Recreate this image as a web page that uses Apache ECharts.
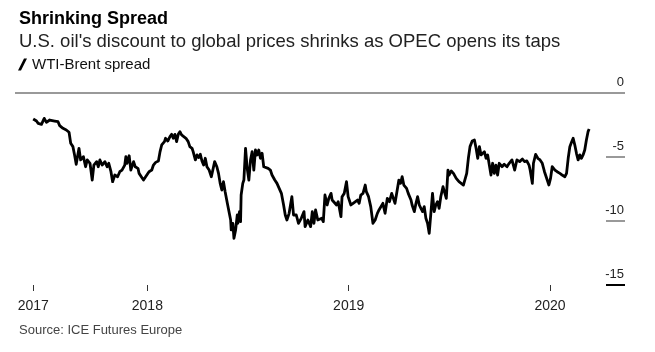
<!DOCTYPE html>
<html>
<head>
<meta charset="utf-8">
<script src="https://cdn.jsdelivr.net/npm/echarts@6/dist/echarts.min.js"></script>
<style>
html,body{margin:0;padding:0;background:#fff;}
#chart{width:655px;height:352px;}
</style>
</head>
<body>
<div id="chart"></div>
<script>
var titleText = 'Shrinking Spread';
var subtitleText = "U.S. oil's discount to global prices shrinks as OPEC opens its taps";
var seriesName = 'WTI-Brent spread';
var sourceText = 'Source: ICE Futures Europe';

var xTickDates = ['2017-06-08', '2018-01-01', '2019-01-01', '2020-01-01'];
var xTickLabels = ['2017', '2018', '2019', '2020'];
var xRange = ['2017-05-06', '2020-05-16'];
var yTickValues = [0, -5, -10, -15];

var dates = [
'2017-06-08','2017-06-14','2017-06-17','2017-06-23','2017-06-28','2017-07-02','2017-07-08','2017-07-17','2017-07-23','2017-07-26',
'2017-07-29','2017-08-01','2017-08-07','2017-08-12','2017-08-15','2017-08-19','2017-08-22','2017-08-25','2017-08-30','2017-09-02',
'2017-09-07','2017-09-11','2017-09-14','2017-09-19','2017-09-23','2017-09-26','2017-10-01','2017-10-04','2017-10-07','2017-10-11',
'2017-10-16','2017-10-20','2017-10-23','2017-10-27','2017-10-30','2017-11-03','2017-11-08','2017-11-12','2017-11-16','2017-11-21',
'2017-11-23','2017-11-25','2017-11-29','2017-12-02','2017-12-07','2017-12-10','2017-12-15','2017-12-17','2017-12-21','2017-12-25',
'2017-12-28','2017-12-31','2018-01-04','2018-01-09','2018-01-12','2018-01-16','2018-01-21','2018-01-24','2018-01-27','2018-02-01',
'2018-02-03','2018-02-07','2018-02-11','2018-02-14','2018-02-17','2018-02-20','2018-02-23','2018-02-26','2018-03-01','2018-03-04',
'2018-03-07','2018-03-12','2018-03-16','2018-03-19','2018-03-23','2018-03-25','2018-03-29','2018-04-01','2018-04-04','2018-04-07',
'2018-04-10','2018-04-13','2018-04-16','2018-04-19','2018-04-23','2018-04-27','2018-04-29','2018-05-03','2018-05-07','2018-05-10',
'2018-05-13','2018-05-16','2018-05-19','2018-05-22','2018-05-26','2018-05-29','2018-06-01','2018-06-02','2018-06-05','2018-06-07',
'2018-06-10','2018-06-13','2018-06-14','2018-06-17','2018-06-19','2018-06-20','2018-06-23','2018-06-25','2018-06-28','2018-07-01',
'2018-07-04','2018-07-07','2018-07-10','2018-07-13','2018-07-16','2018-07-19','2018-07-22','2018-07-25','2018-07-28','2018-07-31',
'2018-08-03','2018-08-08','2018-08-12','2018-08-15','2018-08-20','2018-08-24','2018-08-28','2018-09-01','2018-09-05','2018-09-08',
'2018-09-11','2018-09-15','2018-09-20','2018-09-23','2018-09-28','2018-10-02','2018-10-07','2018-10-12','2018-10-14','2018-10-19',
'2018-10-24','2018-10-27','2018-10-30','2018-11-02','2018-11-06','2018-11-13','2018-11-16','2018-11-19','2018-11-23','2018-11-26',
'2018-11-30','2018-12-02','2018-12-05','2018-12-10','2018-12-13','2018-12-18','2018-12-20','2018-12-24','2018-12-28','2018-12-31',
'2019-01-05','2019-01-09','2019-01-12','2019-01-17','2019-01-20','2019-01-23','2019-01-27','2019-01-31','2019-02-02','2019-02-06',
'2019-02-10','2019-02-14','2019-02-18','2019-02-22','2019-02-25','2019-02-28','2019-03-04','2019-03-08','2019-03-12','2019-03-16',
'2019-03-20','2019-03-22','2019-03-26','2019-03-30','2019-04-02','2019-04-05','2019-04-08','2019-04-11','2019-04-16','2019-04-19',
'2019-04-24','2019-04-26','2019-04-30','2019-05-03','2019-05-06','2019-05-09','2019-05-12','2019-05-15','2019-05-18','2019-05-21',
'2019-05-24','2019-05-27','2019-05-30','2019-06-02','2019-06-05','2019-06-08','2019-06-11','2019-06-14','2019-06-17','2019-06-21',
'2019-06-23','2019-06-27','2019-06-30','2019-07-02','2019-07-06','2019-07-10','2019-07-15','2019-07-20','2019-07-24','2019-07-28',
'2019-07-31','2019-08-03','2019-08-06','2019-08-09','2019-08-13','2019-08-17','2019-08-20','2019-08-23','2019-08-26','2019-08-29',
'2019-09-01','2019-09-04','2019-09-07','2019-09-10','2019-09-13','2019-09-16','2019-09-19','2019-09-22','2019-09-25','2019-09-28',
'2019-10-01','2019-10-06','2019-10-10','2019-10-15','2019-10-19','2019-10-24','2019-10-29','2019-11-02','2019-11-07','2019-11-12',
'2019-11-16','2019-11-20','2019-11-24','2019-11-26','2019-11-30','2019-12-02','2019-12-06','2019-12-10','2019-12-14','2019-12-18',
'2019-12-22','2019-12-27','2019-12-30','2020-01-02','2020-01-05','2020-01-10','2020-01-14','2020-01-19','2020-01-23','2020-01-28',
'2020-01-31','2020-02-03','2020-02-06','2020-02-09','2020-02-12','2020-02-15','2020-02-18','2020-02-21','2020-02-24','2020-02-27',
'2020-03-01','2020-03-04','2020-03-07','2020-03-10','2020-03-12'
];

var spread = [
-2.03,-2.19,-2.37,-2.45,-1.98,-2.29,-2.11,-2.19,-2.24,-2.55,
-2.50,-2.76,-2.89,-3.07,-3.93,-4.19,-4.84,-5.57,-4.32,-5.23,
-4.97,-5.76,-5.23,-5.49,-6.80,-5.63,-5.36,-5.76,-5.23,-5.63,
-5.36,-5.76,-5.49,-6.15,-6.93,-6.41,-6.54,-6.15,-6.02,-5.63,
-4.97,-5.49,-4.90,-6.02,-5.36,-5.76,-5.89,-6.28,-6.54,-6.80,
-6.88,-6.41,-6.15,-6.02,-5.63,-5.42,-5.31,-4.58,-4.06,-3.80,
-3.54,-3.75,-3.41,-3.23,-3.54,-3.23,-3.80,-3.23,-3.02,-3.28,
-3.41,-3.54,-3.80,-4.19,-4.32,-4.58,-5.23,-4.84,-5.05,-4.79,
-5.31,-5.63,-5.10,-5.76,-6.02,-6.54,-6.54,-5.36,-5.76,-6.28,
-7.06,-7.58,-6.93,-7.71,-8.62,-8.75,-9.92,-10.70,-10.18,-11.35,
-10.70,-9.53,-10.18,-9.27,-10.05,-7.97,-7.06,-6.80,-4.32,-5.89,
-6.80,-5.23,-4.58,-6.02,-4.45,-4.84,-4.45,-5.10,-4.71,-5.76,
-5.76,-5.89,-6.02,-6.41,-6.80,-7.06,-7.45,-7.84,-8.75,-9.53,
-9.92,-9.40,-8.10,-9.53,-9.53,-10.18,-9.79,-9.27,-10.44,-9.92,
-10.44,-9.27,-10.18,-9.14,-9.92,-9.79,-10.05,-7.97,-8.75,-8.23,
-7.84,-8.36,-8.23,-8.75,-8.49,-9.66,-8.10,-7.84,-6.93,-8.10,
-8.75,-8.62,-8.75,-8.36,-8.62,-7.97,-7.84,-7.19,-7.71,-8.10,
-8.88,-10.18,-9.92,-9.40,-9.14,-9.27,-8.62,-9.40,-8.23,-8.49,
-7.84,-8.10,-8.62,-7.58,-6.80,-7.06,-6.54,-7.19,-7.45,-7.84,
-8.36,-8.75,-9.27,-8.62,-8.10,-8.75,-9.01,-9.27,-8.88,-9.79,
-10.18,-10.96,-10.83,-7.84,-9.27,-8.75,-8.49,-9.01,-8.10,-7.32,
-7.19,-8.23,-6.02,-6.41,-6.09,-6.28,-6.67,-6.93,-7.06,-7.19,
-7.06,-6.28,-5.10,-4.19,-3.75,-3.67,-4.32,-5.10,-4.19,-4.84,
-4.97,-4.58,-5.10,-4.84,-5.63,-6.41,-5.49,-6.28,-5.63,-6.41,
-5.49,-5.76,-5.57,-5.76,-5.49,-5.23,-6.02,-5.23,-5.36,-5.16,
-5.36,-5.31,-5.63,-6.02,-7.06,-5.49,-4.79,-5.10,-5.23,-5.49,
-6.15,-6.80,-7.19,-6.67,-5.76,-6.02,-6.15,-6.28,-6.41,-6.54,
-6.28,-5.10,-4.19,-3.85,-3.54,-4.06,-4.71,-5.23,-4.84,-5.10,
-4.84,-4.45,-3.67,-3.02,-2.81
];

var FONT = 'Liberation Sans';
function toTime(d) { return Date.parse(d + 'T00:00:00Z'); }
var xTickTimes = xTickDates.map(toTime);

var chart = echarts.init(document.getElementById('chart'), null, {renderer: 'canvas'});
var option = {
  animation: false,
  backgroundColor: '#fff',
  textStyle: {fontFamily: FONT},
  title: [
    {text: titleText, left: 14, top: 5,
     textStyle: {fontFamily: FONT, fontSize: 18, fontWeight: 'bold', color: '#000'}},
    {text: subtitleText, left: 14, top: 27,
     textStyle: {fontFamily: FONT, fontSize: 18.5, fontWeight: 'normal', color: '#222'}},
    {text: sourceText, left: 14, top: 319,
     textStyle: {fontFamily: FONT, fontSize: 13, fontWeight: 'normal', color: '#444'}}
  ],
  legend: {
    left: 13, top: 52,
    itemWidth: 9, itemHeight: 13, itemGap: 6,
    icon: 'path://M0,12 L3,12 L9,0 L6,0 Z',
    data: [{name: seriesName, itemStyle: {color: '#000'}}],
    textStyle: {fontFamily: FONT, fontSize: 15, color: '#111'},
    selectedMode: false
  },
  grid: {left: 15, right: 30, top: 93, bottom: 67, containLabel: false},
  xAxis: {
    type: 'value',
    position: 'bottom',
    min: toTime(xRange[0]),
    max: toTime(xRange[1]),
    axisLine: {show: false, onZero: false},
    splitLine: {show: false},
    axisTick: {show: true, length: 6, lineStyle: {color: '#333', width: 1}, customValues: xTickTimes},
    axisLabel: {
      customValues: xTickTimes,
      margin: 14,
      fontFamily: FONT, fontSize: 14, color: '#222',
      formatter: function (v) {
        var i = xTickTimes.indexOf(v);
        return i >= 0 ? xTickLabels[i] : '';
      }
    }
  },
  yAxis: [{
    type: 'value', position: 'right',
    min: -15, max: 0, interval: 5,
    axisLine: {show: false},
    splitLine: {show: false},
    axisTick: {show: true, inside: true, length: 19, lineStyle: {color: '#999', width: 2},
               customValues: yTickValues.slice(0, 3)},
    axisLabel: {
      inside: true, margin: 1, customValues: yTickValues,
      fontFamily: FONT, fontSize: 13, color: '#222',
      verticalAlign: 'bottom', lineHeight: 16, padding: [0, 0, 3, 0]
    }
  }, {
    type: 'value', position: 'right',
    min: -15, max: 0, interval: 5,
    axisLine: {show: false},
    splitLine: {show: false},
    axisTick: {show: true, inside: true, length: 19, lineStyle: {color: '#000', width: 2},
               customValues: yTickValues.slice(3)},
    axisLabel: {show: false}
  }],
  series: [{
    name: seriesName,
    type: 'line',
    showSymbol: false,
    symbol: 'none',
    data: dates.map(function (d, i) { return [toTime(d), spread[i]]; }),
    lineStyle: {color: '#000', width: 2.8, join: 'round'},
    itemStyle: {color: '#000'},
    z: 5,
    markLine: {
      silent: true,
      symbol: 'none',
      label: {show: false},
      lineStyle: {color: '#999', width: 2, type: 'solid'},
      data: [{yAxis: 0}],
      z: 1
    }
  }]
};
chart.setOption(option);
</script>
</body>
</html>
